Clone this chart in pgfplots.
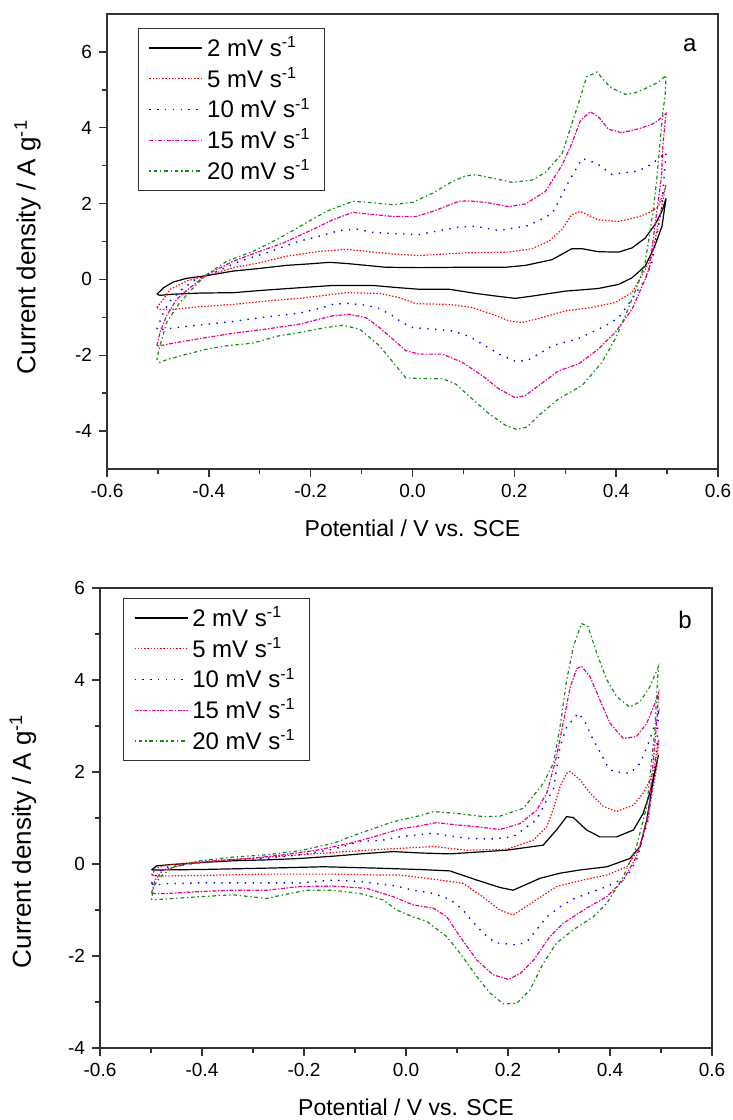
\documentclass[border=0pt]{standalone}
\usepackage{fontspec}
\setmainfont{Liberation Sans}
\usepackage{pgfplots}
\pgfplotsset{compat=1.18}

\definecolor{cvgreen}{RGB}{20,140,20}

\pgfplotsset{
  cvaxis/.style={
    scale only axis,
    xmin=-0.6, xmax=0.6,
    xtick={-0.6,-0.4,...,0.6},
    minor x tick num=1, minor y tick num=1,
    tick align=outside, xtick pos=bottom, ytick pos=left,
    major tick length=4pt, minor tick length=2.5pt,
    axis line style={black!80, line width=0.7pt},
    every tick/.style={black!80, line width=0.7pt},
    /pgf/number format/assume math mode=true,
    xticklabel style={/pgf/number format/.cd, fixed, fixed zerofill, precision=1},
    tick label style={font=\fontsize{9.5}{11}\selectfont},
    xlabel style={font=\fontsize{11.5}{13}\selectfont, yshift=-4.5pt},
    ylabel style={font=\fontsize{13}{15}\selectfont, anchor=center},
    xlabel={Potential / V vs. SCE},
    ylabel={Current density / A g\textsuperscript{-1}},
    legend cell align=left,
    legend image code/.code={\draw[#1] (0pt,0pt) -- (26.5pt,0pt);},
    legend style={draw=black!80, line width=0.6pt, fill=white,
      font=\fontsize{12}{14}\selectfont, anchor=north west,
      cells={anchor=west, inner ysep=2.6pt, inner xsep=2pt},
      inner xsep=5pt, inner ysep=2pt, row sep=0pt},
  },
  cv2/.style={black, line width=0.6pt},
  cv5/.style={red, line width=0.6pt, dash pattern=on 0.7pt off 0.9pt},
  cv10/.style={blue, line width=0.7pt, dash pattern=on 0.7pt off 3.2pt},
  cv15/.style={magenta, line width=0.6pt, dash pattern=on 2pt off 0.8pt on 0.7pt off 0.8pt},
  cv20/.style={cvgreen, line width=0.6pt, dash pattern=on 0.7pt off 1.4pt on 1.8pt off 1.4pt},
}

\begin{document}
\begin{tikzpicture}
\useasboundingbox (0,0) rectangle (366.5pt,560pt);

% ---------------- panel a ----------------
\begin{axis}[cvaxis,
  at={(53.5pt,325.5pt)}, anchor=south west,
  width=305.5pt, height=227.5pt,
  ymin=-5, ymax=7, ytick={-4,-2,...,6},
  ylabel style={at={(axis description cs:-0.13,0.488)}},
  legend style={at={(axis description cs:0.051,0.969)}},
]
\addplot[cv2] coordinates {(-0.502,-0.39) (-0.489,-0.22) (-0.470,-0.07) (-0.443,0.03) (-0.404,0.10) (-0.352,0.22) (-0.300,0.29) (-0.248,0.37) (-0.202,0.41) (-0.163,0.45) (-0.130,0.42) (-0.091,0.37) (-0.052,0.32) (0.013,0.31) (0.098,0.32) (0.183,0.32) (0.222,0.37) (0.274,0.52) (0.313,0.81) (0.333,0.81) (0.365,0.73) (0.405,0.72) (0.431,0.83) (0.457,1.09) (0.476,1.44) (0.490,1.80) (0.498,2.14)
 (0.490,1.40) (0.475,0.85) (0.457,0.35) (0.431,0.04) (0.405,-0.13) (0.365,-0.24) (0.300,-0.31) (0.235,-0.44) (0.202,-0.50) (0.170,-0.45) (0.124,-0.37) (0.072,-0.26) (0.013,-0.26) (-0.026,-0.22) (-0.078,-0.16) (-0.157,-0.16) (-0.222,-0.22) (-0.287,-0.28) (-0.352,-0.35) (-0.417,-0.36) (-0.470,-0.39) (-0.496,-0.42) (-0.502,-0.39)};
\addlegendentry{2 mV s\textsuperscript{-1}}
\addplot[cv5] coordinates {(-0.502,-0.74) (-0.489,-0.52) (-0.476,-0.26) (-0.443,-0.04) (-0.404,0.10) (-0.352,0.31) (-0.300,0.44) (-0.248,0.61) (-0.183,0.74) (-0.130,0.79) (-0.091,0.74) (-0.039,0.67) (0.013,0.63) (0.104,0.70) (0.189,0.72) (0.235,0.81) (0.268,1.01) (0.293,1.31) (0.313,1.71) (0.330,1.79) (0.365,1.57) (0.405,1.53) (0.444,1.65) (0.463,1.75) (0.483,1.92) (0.498,2.50)
 (0.483,1.49) (0.470,0.61) (0.457,0.26) (0.431,-0.35) (0.398,-0.61) (0.352,-0.74) (0.300,-0.83) (0.254,-1.01) (0.215,-1.14) (0.189,-1.09) (0.157,-0.92) (0.117,-0.74) (0.072,-0.66) (0.007,-0.64) (-0.026,-0.48) (-0.065,-0.37) (-0.130,-0.35) (-0.183,-0.44) (-0.222,-0.50) (-0.287,-0.57) (-0.352,-0.66) (-0.417,-0.72) (-0.470,-0.79) (-0.496,-0.79) (-0.502,-0.74)};
\addlegendentry{5 mV s\textsuperscript{-1}}
\addplot[cv10] coordinates {(-0.502,-1.31) (-0.489,-0.87) (-0.476,-0.57) (-0.457,-0.31) (-0.431,-0.04) (-0.391,0.17) (-0.339,0.48) (-0.287,0.70) (-0.222,1.01) (-0.183,1.14) (-0.143,1.29) (-0.111,1.33) (-0.078,1.24) (-0.039,1.21) (0.013,1.18) (0.046,1.27) (0.091,1.38) (0.124,1.40) (0.170,1.29) (0.228,1.42) (0.274,1.73) (0.287,2.06) (0.307,2.58) (0.333,3.19) (0.362,3.06) (0.391,2.77) (0.418,2.82) (0.444,2.86) (0.463,2.99) (0.476,3.11) (0.498,3.35)
 (0.489,1.84) (0.470,0.44) (0.457,0.0) (0.431,-0.52) (0.405,-1.01) (0.378,-1.23) (0.326,-1.56) (0.274,-1.75) (0.248,-1.97) (0.225,-2.14) (0.202,-2.16) (0.173,-1.99) (0.111,-1.50) (0.078,-1.36) (0.039,-1.31) (0.0,-1.27) (-0.020,-1.14) (-0.039,-0.96) (-0.065,-0.77) (-0.091,-0.68) (-0.130,-0.63) (-0.157,-0.66) (-0.176,-0.74) (-0.222,-0.89) (-0.254,-0.94) (-0.300,-1.01) (-0.352,-1.11) (-0.417,-1.20) (-0.463,-1.27) (-0.499,-1.33) (-0.502,-1.31)};
\addlegendentry{10 mV s\textsuperscript{-1}}
\addplot[cv15] coordinates {(-0.502,-1.75) (-0.496,-1.40) (-0.483,-0.96) (-0.463,-0.52) (-0.437,-0.22) (-0.404,0.13) (-0.352,0.48) (-0.300,0.74) (-0.254,0.96) (-0.189,1.36) (-0.157,1.57) (-0.117,1.77) (-0.091,1.73) (-0.039,1.66) (0.007,1.66) (0.039,1.79) (0.091,2.06) (0.111,2.07) (0.144,2.03) (0.189,1.92) (0.222,1.99) (0.261,2.32) (0.294,3.02) (0.313,3.59) (0.330,4.20) (0.349,4.42) (0.365,4.29) (0.385,3.96) (0.411,3.87) (0.444,3.97) (0.470,4.09) (0.483,4.20) (0.498,4.38)
 (0.492,3.59) (0.489,2.71) (0.476,1.40) (0.466,0.35) (0.457,0.0) (0.431,-0.79) (0.398,-1.40) (0.365,-1.84) (0.326,-2.23) (0.287,-2.41) (0.248,-2.80) (0.222,-3.06) (0.202,-3.12) (0.170,-2.89) (0.137,-2.54) (0.098,-2.19) (0.059,-1.97) (0.013,-1.97) (-0.013,-1.88) (-0.039,-1.57) (-0.065,-1.27) (-0.091,-1.01) (-0.124,-0.92) (-0.157,-0.96) (-0.222,-1.18) (-0.287,-1.31) (-0.352,-1.42) (-0.417,-1.56) (-0.470,-1.68) (-0.496,-1.75) (-0.502,-1.75)};
\addlegendentry{15 mV s\textsuperscript{-1}}
\addplot[cv20] coordinates {(-0.502,-2.10) (-0.496,-1.75) (-0.483,-1.14) (-0.457,-0.61) (-0.424,-0.13) (-0.404,0.13) (-0.365,0.48) (-0.313,0.74) (-0.261,1.09) (-0.209,1.49) (-0.170,1.79) (-0.117,2.06) (-0.085,2.03) (-0.039,1.97) (0.0,2.03) (0.039,2.27) (0.078,2.58) (0.104,2.73) (0.124,2.76) (0.157,2.67) (0.196,2.56) (0.235,2.62) (0.261,2.82) (0.294,3.32) (0.313,4.11) (0.330,4.81) (0.342,5.34) (0.362,5.47) (0.388,5.07) (0.418,4.88) (0.437,4.92) (0.457,5.03) (0.483,5.20) (0.498,5.38)
 (0.496,4.81) (0.492,4.46) (0.486,3.59) (0.479,2.54) (0.473,1.84) (0.463,0.96) (0.457,0.44) (0.444,-0.09) (0.431,-0.52) (0.418,-0.96) (0.398,-1.57) (0.372,-2.19) (0.333,-2.80) (0.287,-3.15) (0.248,-3.59) (0.225,-3.89) (0.205,-3.96) (0.183,-3.85) (0.150,-3.54) (0.117,-3.15) (0.085,-2.76) (0.059,-2.62) (0.007,-2.61) (-0.013,-2.60) (-0.033,-2.27) (-0.065,-1.75) (-0.104,-1.31) (-0.137,-1.21) (-0.170,-1.27) (-0.222,-1.40) (-0.267,-1.50) (-0.313,-1.68) (-0.365,-1.75) (-0.404,-1.84) (-0.443,-1.97) (-0.483,-2.12) (-0.496,-2.19) (-0.502,-2.10)};
\addlegendentry{20 mV s\textsuperscript{-1}}
\node[font=\fontsize{12}{14}\selectfont] at (axis description cs:0.954,0.932) {a};
\end{axis}

% ---------------- panel b ----------------
\begin{axis}[cvaxis,
  at={(50pt,36pt)}, anchor=south west,
  width=306pt, height=230pt,
  ymin=-4, ymax=6, ytick={-4,-2,...,6},
  ylabel style={at={(axis description cs:-0.126,0.45)}},
  legend style={at={(axis description cs:0.038,0.978)}},
]
\addplot[cv2] coordinates {(-0.499,-0.13) (-0.489,-0.04) (-0.469,-0.02) (-0.404,0.03) (-0.339,0.07) (-0.273,0.09) (-0.208,0.12) (-0.143,0.17) (-0.077,0.23) (-0.025,0.27) (0.027,0.24) (0.086,0.22) (0.197,0.30) (0.269,0.41) (0.295,0.74) (0.315,1.03) (0.328,1.01) (0.354,0.74) (0.380,0.59) (0.413,0.59) (0.446,0.74) (0.465,1.10) (0.478,1.54) (0.495,2.37)
 (0.485,1.83) (0.472,0.96) (0.459,0.38) (0.439,0.12) (0.394,-0.06) (0.341,-0.13) (0.302,-0.20) (0.263,-0.31) (0.210,-0.57) (0.184,-0.51) (0.139,-0.35) (0.086,-0.15) (0.027,-0.12) (-0.057,-0.09) (-0.162,-0.06) (-0.273,-0.09) (-0.404,-0.12) (-0.489,-0.13) (-0.499,-0.13)};
\addlegendentry{2 mV s\textsuperscript{-1}}
\addplot[cv5] coordinates {(-0.499,-0.24) (-0.489,-0.09) (-0.469,-0.02) (-0.404,0.05) (-0.339,0.10) (-0.273,0.15) (-0.208,0.20) (-0.143,0.25) (-0.077,0.30) (-0.012,0.34) (0.054,0.38) (0.119,0.30) (0.197,0.32) (0.250,0.52) (0.276,0.81) (0.289,1.20) (0.302,1.68) (0.315,1.97) (0.322,2.01) (0.341,1.83) (0.361,1.54) (0.387,1.25) (0.413,1.14) (0.446,1.28) (0.465,1.54) (0.485,1.97) (0.495,2.70)
 (0.492,2.12) (0.475,1.10) (0.459,0.38) (0.433,-0.06) (0.394,-0.24) (0.354,-0.33) (0.295,-0.49) (0.250,-0.82) (0.210,-1.11) (0.184,-1.00) (0.145,-0.67) (0.112,-0.42) (0.054,-0.33) (-0.012,-0.24) (-0.045,-0.24) (-0.143,-0.22) (-0.273,-0.22) (-0.404,-0.25) (-0.482,-0.26) (-0.499,-0.24)};
\addlegendentry{5 mV s\textsuperscript{-1}}
\addplot[cv10] coordinates {(-0.499,-0.42) (-0.489,-0.20) (-0.469,-0.07) (-0.404,0.03) (-0.339,0.10) (-0.273,0.12) (-0.208,0.20) (-0.143,0.32) (-0.090,0.49) (-0.045,0.52) (-0.012,0.59) (0.054,0.67) (0.073,0.63) (0.119,0.56) (0.165,0.54) (0.210,0.59) (0.256,0.96) (0.276,1.39) (0.289,1.61) (0.302,2.55) (0.315,2.98) (0.338,3.28) (0.351,3.09) (0.364,2.77) (0.394,2.15) (0.406,2.01) (0.439,1.97) (0.459,2.19) (0.478,2.70) (0.495,3.28)
 (0.492,2.55) (0.475,0.96) (0.452,0.09) (0.433,-0.28) (0.394,-0.49) (0.361,-0.62) (0.328,-0.76) (0.302,-0.93) (0.276,-1.15) (0.256,-1.43) (0.237,-1.69) (0.217,-1.76) (0.175,-1.71) (0.152,-1.51) (0.125,-1.18) (0.112,-1.00) (0.086,-0.77) (0.054,-0.64) (0.014,-0.57) (-0.018,-0.48) (-0.090,-0.38) (-0.143,-0.35) (-0.208,-0.41) (-0.339,-0.41) (-0.404,-0.41) (-0.469,-0.43) (-0.495,-0.46) (-0.499,-0.42)};
\addlegendentry{10 mV s\textsuperscript{-1}}
\addplot[cv15] coordinates {(-0.499,-0.64) (-0.492,-0.35) (-0.476,-0.13) (-0.430,0.0) (-0.371,0.07) (-0.306,0.12) (-0.241,0.20) (-0.175,0.30) (-0.110,0.45) (-0.064,0.59) (-0.012,0.76) (0.027,0.83) (0.060,0.90) (0.099,0.85) (0.139,0.81) (0.184,0.75) (0.224,0.88) (0.256,1.17) (0.276,1.54) (0.295,2.33) (0.308,3.06) (0.322,3.85) (0.335,4.25) (0.344,4.30) (0.361,4.07) (0.380,3.57) (0.400,3.06) (0.426,2.73) (0.452,2.77) (0.472,3.06) (0.488,3.49) (0.495,3.71)
 (0.492,3.13) (0.475,1.03) (0.452,0.16) (0.426,-0.35) (0.394,-0.71) (0.354,-0.96) (0.308,-1.29) (0.282,-1.58) (0.250,-2.09) (0.224,-2.38) (0.201,-2.51) (0.171,-2.41) (0.139,-2.09) (0.106,-1.58) (0.080,-1.15) (0.054,-0.96) (0.014,-0.89) (-0.025,-0.71) (-0.077,-0.53) (-0.143,-0.48) (-0.208,-0.49) (-0.273,-0.57) (-0.339,-0.57) (-0.404,-0.60) (-0.469,-0.64) (-0.499,-0.64)};
\addlegendentry{15 mV s\textsuperscript{-1}}
\addplot[cv20] coordinates {(-0.499,-0.78) (-0.495,-0.49) (-0.482,-0.28) (-0.456,-0.06) (-0.404,0.07) (-0.339,0.15) (-0.273,0.20) (-0.208,0.29) (-0.143,0.45) (-0.090,0.67) (-0.025,0.92) (0.027,1.05) (0.054,1.14) (0.099,1.10) (0.152,1.03) (0.184,1.04) (0.230,1.21) (0.269,1.75) (0.289,2.19) (0.302,2.98) (0.315,4.00) (0.328,4.72) (0.344,5.23) (0.357,5.16) (0.374,4.58) (0.394,4.00) (0.413,3.64) (0.439,3.41) (0.459,3.53) (0.478,3.85) (0.495,4.29)
 (0.492,3.78) (0.488,2.91) (0.472,1.25) (0.452,0.38) (0.426,-0.28) (0.394,-0.85) (0.367,-1.15) (0.328,-1.43) (0.295,-1.72) (0.269,-2.16) (0.243,-2.74) (0.217,-3.03) (0.191,-3.04) (0.165,-2.81) (0.139,-2.45) (0.106,-1.94) (0.080,-1.58) (0.041,-1.25) (0.014,-1.15) (-0.018,-1.00) (-0.045,-0.78) (-0.090,-0.64) (-0.143,-0.57) (-0.195,-0.57) (-0.241,-0.67) (-0.273,-0.75) (-0.339,-0.67) (-0.404,-0.71) (-0.469,-0.76) (-0.499,-0.78)};
\addlegendentry{20 mV s\textsuperscript{-1}}
\node[font=\fontsize{12}{14}\selectfont] at (axis description cs:0.956,0.93) {b};
\end{axis}
\end{tikzpicture}
\end{document}
